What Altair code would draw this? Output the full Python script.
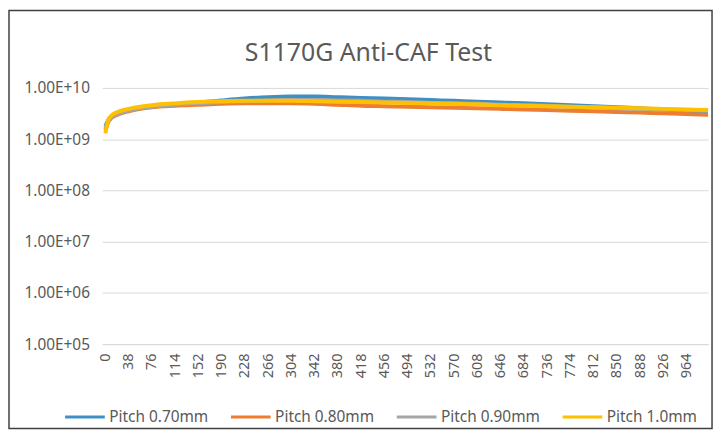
import altair as alt
import pandas as pd

# ---- data ----
x_pos = [0, 5, 10, 20, 38, 57, 76, 114, 152, 190, 228, 266, 304, 342, 380, 418,
         456, 494, 532, 570, 608, 646, 684, 722, 760, 798, 836, 874, 912, 950, 985]

# resistance in units of 1e9 ohm
p070 = [1.8, 2.4, 2.8, 3.2, 3.7, 4.1, 4.4, 4.8, 5.2, 5.7, 6.2, 6.6, 6.8, 6.8, 6.6, 6.4,
        6.2, 6.0, 5.8, 5.6, 5.4, 5.2, 5.0, 4.8, 4.6, 4.4, 4.2, 4.0, 3.8, 3.6, 3.5]
p080 = [1.5, 2.2, 2.6, 3.0, 3.5, 3.9, 4.2, 4.5, 4.7, 4.9, 5.0, 5.0, 5.0, 4.9, 4.7, 4.5,
        4.4, 4.3, 4.2, 4.1, 4.0, 3.9, 3.8, 3.7, 3.6, 3.5, 3.4, 3.3, 3.2, 3.1, 3.0]
p090 = [1.6, 2.3, 2.7, 3.1, 3.6, 4.0, 4.3, 4.7, 5.0, 5.3, 5.5, 5.7, 5.8, 5.8, 5.7, 5.6,
        5.4, 5.3, 5.1, 5.0, 4.9, 4.7, 4.6, 4.5, 4.3, 4.2, 4.0, 3.9, 3.8, 3.7, 3.6]
p100 = [1.3, 2.4, 2.9, 3.4, 3.9, 4.3, 4.6, 5.0, 5.3, 5.5, 5.6, 5.6, 5.6, 5.5, 5.4, 5.3,
        5.2, 5.1, 5.0, 4.9, 4.8, 4.6, 4.5, 4.4, 4.3, 4.2, 4.1, 4.0, 3.9, 3.8, 3.7]

series_names = ["Pitch 0.70mm", "Pitch 0.80mm", "Pitch 0.90mm", "Pitch 1.0mm"]
series_colors = ["#3F8FC6", "#ED7D31", "#A5A5A5", "#FFC000"]

x_tick_labels = ["0", "38", "76", "114", "152", "190", "228", "266", "304", "342",
                 "380", "418", "456", "494", "532", "570", "608", "646", "684",
                 "736", "774", "812", "850", "888", "926", "964"]
y_tick_values = [1e5, 1e6, 1e7, 1e8, 1e9, 1e10]
y_tick_labels = ["1.00E+05", "1.00E+06", "1.00E+07", "1.00E+08", "1.00E+09", "1.00E+10"]

title_text = "S1170G Anti-CAF Test"

# ---- build table ----
rows = []
for name, vals in zip(series_names, [p070, p080, p090, p100]):
    for i, (x, v) in enumerate(zip(x_pos, vals)):
        rows.append({"x": x, "y": v * 1e9, "series": name, "order": i})
df = pd.DataFrame(rows)

x_tick_vals = [i * 38 for i in range(len(x_tick_labels))]
x_label_expr = "[" + ",".join("'%s'" % s for s in x_tick_labels) + "][round(datum.value/38)]"
y_label_expr = "[" + ",".join("'%s'" % s for s in y_tick_labels) + "][round(log(datum.value)/LN10)-5]"

FONT = "Noto Sans"
TXT = "#595959"

PW, PH = 610, 258

lines = alt.Chart(df).mark_line(strokeWidth=4, interpolate="monotone").encode(
    x=alt.X("x:Q", scale=alt.Scale(domain=[-5, 985], nice=False, zero=False),
            axis=alt.Axis(values=x_tick_vals, labelExpr=x_label_expr, title=None,
                          labelAngle=-90, labelAlign="right", labelBaseline="middle",
                          labelPadding=9, ticks=False, grid=False, domain=True,
                          domainColor="#D9D9D9", labelFontSize=14.5, labelColor=TXT,
                          labelFont=FONT, labelOverlap=False)),
    y=alt.Y("y:Q", scale=alt.Scale(type="log", domain=[1e5, 1e10], nice=False),
            axis=alt.Axis(values=y_tick_values, labelExpr=y_label_expr, title=None,
                          ticks=False, domain=False, grid=True, gridColor="#D9D9D9",
                          labelPadding=13, labelFontSize=15.5, labelColor=TXT,
                          labelFont=FONT)),
    color=alt.Color("series:N",
                    scale=alt.Scale(domain=series_names, range=series_colors),
                    legend=alt.Legend(title=None, orient="none", direction="horizontal",
                                      legendX=-39, legendY=310,
                                      symbolType="stroke", symbolSize=1600,
                                      symbolStrokeWidth=3, labelFontSize=15.5,
                                      labelColor=TXT, labelFont=FONT,
                                      columnPadding=16, labelOffset=3,
                                      labelLimit=250)),
    order=alt.Order("order:Q"),
)

border = alt.Chart(alt.Data(values=[{}])).mark_rect(
    fill=None, stroke="#404040", strokeWidth=1.5, clip=False
).encode(
    x=alt.value(-94), x2=alt.value(614), y=alt.value(-78), y2=alt.value(343)
)

title = alt.Chart(alt.Data(values=[{}])).mark_text(
    fontSize=25, font=FONT, color=TXT, align="center", baseline="middle"
).encode(
    x=alt.value(268), y=alt.value(-35), text=alt.value(title_text)
)

chart = alt.layer(border, title, lines).properties(
    width=PW, height=PH,
    padding={"left": 95, "top": 79, "right": 8, "bottom": 87},
    autosize=alt.AutoSizeParams(type="none"),
).configure_view(stroke=None)

chart.save("out.html", embed_options={"renderer": "svg", "actions": False})
